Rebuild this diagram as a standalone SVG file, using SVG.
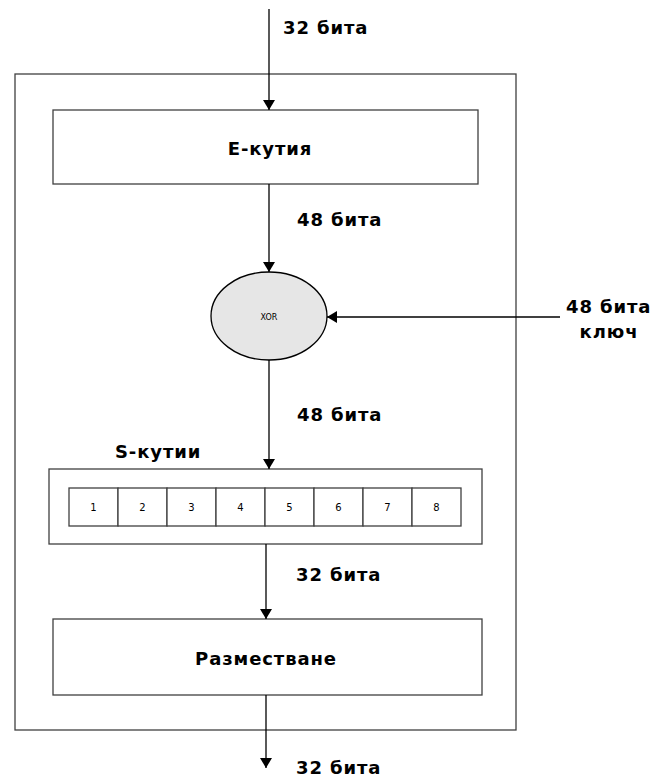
<svg xmlns="http://www.w3.org/2000/svg" width="654" height="778" viewBox="0 0 654 778">
<style>
.box{fill:#fff;stroke:#404040;stroke-width:1.3}
.ln{stroke:#000;stroke-width:1.3;fill:none}
.lb{font-family:"DejaVu Sans",Verdana,sans-serif;font-weight:bold;font-size:18px;letter-spacing:0.9px;fill:#000}
.num{font-family:"DejaVu Sans",Verdana,sans-serif;font-size:10px;fill:#000;text-anchor:middle}
</style>
<defs>
<marker id="ah" markerWidth="10" markerHeight="12" refX="10" refY="6" orient="auto" markerUnits="userSpaceOnUse">
<path d="M0,0 L10,6 L0,12 Z" fill="#000"/>
</marker>
</defs>
<rect id="outer" class="box" x="15" y="74" width="501" height="656"/>
<g id="ebox"><rect class="box" x="53" y="110" width="425" height="74"/><text class="lb" x="270" y="155" text-anchor="middle">Е-кутия</text></g>
<g id="xor"><ellipse cx="269" cy="316" rx="58" ry="44" fill="#e6e6e6" stroke="#000" stroke-width="1.3"/><text x="269" y="320" font-family="DejaVu Sans,sans-serif" font-size="8" text-anchor="middle">XOR</text></g>
<g id="sbox"><rect class="box" x="49" y="469" width="433" height="75"/>
<g fill="#fff" stroke="#404040" stroke-width="1.3">
<rect x="69" y="488" width="49" height="38"/><rect x="118" y="488" width="49" height="38"/><rect x="167" y="488" width="49" height="38"/><rect x="216" y="488" width="49" height="38"/><rect x="265" y="488" width="49" height="38"/><rect x="314" y="488" width="49" height="38"/><rect x="363" y="488" width="49" height="38"/><rect x="412" y="488" width="49" height="38"/>
</g>
<text class="num" x="93.5" y="511">1</text><text class="num" x="142.5" y="511">2</text><text class="num" x="191.5" y="511">3</text><text class="num" x="240.5" y="511">4</text><text class="num" x="289.5" y="511">5</text><text class="num" x="338.5" y="511">6</text><text class="num" x="387.5" y="511">7</text><text class="num" x="436.5" y="511">8</text>
</g>
<g id="perm"><rect class="box" x="53" y="619" width="429" height="76"/><text class="lb" x="266" y="665" text-anchor="middle">Разместване</text></g>
<g id="connectors">
<line class="ln" x1="269" y1="9" x2="269" y2="110" marker-end="url(#ah)"/>
<line class="ln" x1="269" y1="184" x2="269" y2="272" marker-end="url(#ah)"/>
<line class="ln" x1="560" y1="317" x2="327" y2="317" marker-end="url(#ah)"/>
<line class="ln" x1="269" y1="360" x2="269" y2="469" marker-end="url(#ah)"/>
<line class="ln" x1="266" y1="544" x2="266" y2="619" marker-end="url(#ah)"/>
<line class="ln" x1="266" y1="695" x2="266" y2="768" marker-end="url(#ah)"/>
</g>
<g id="labels">
<text class="lb" x="283" y="34">32 бита</text>
<text class="lb" x="297" y="226">48 бита</text>
<text class="lb" x="566" y="313">48 бита</text>
<text class="lb" x="609" y="338" text-anchor="middle">ключ</text>
<text class="lb" x="297" y="421">48 бита</text>
<text class="lb" x="115" y="458">S-кутии</text>
<text class="lb" x="296" y="581">32 бита</text>
<text class="lb" x="296" y="774">32 бита</text>
</g>
</svg>
